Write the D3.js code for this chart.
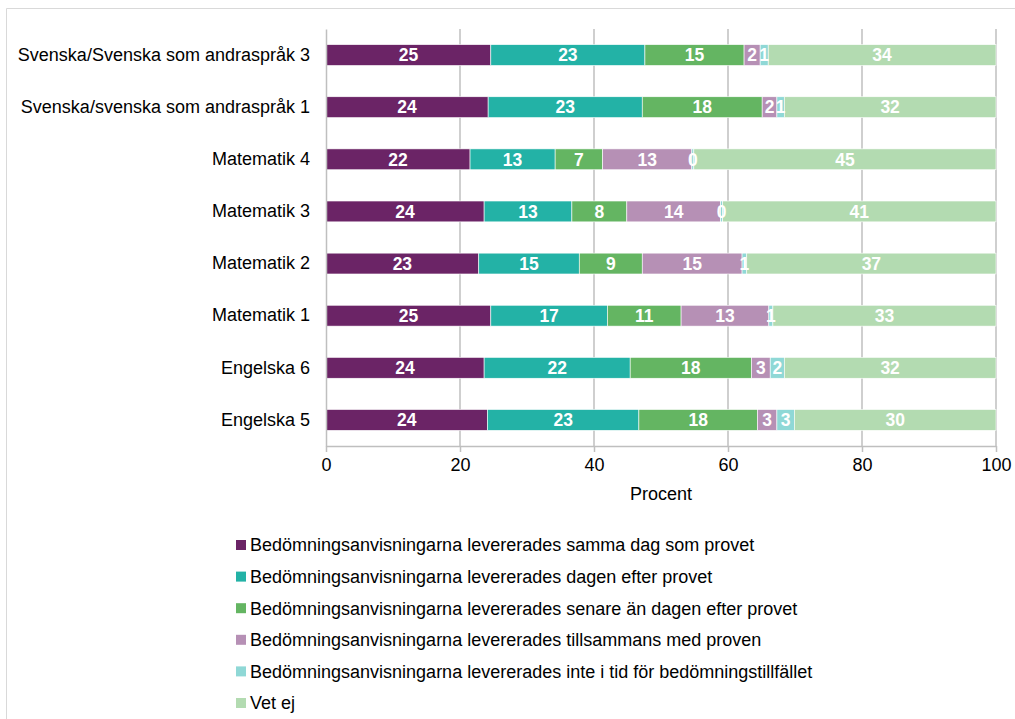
<!DOCTYPE html>
<html>
<head>
<meta charset="utf-8">
<script src="https://cdn.jsdelivr.net/npm/d3@7"></script>
<style>
  body { margin: 0; background: #fff; }
  svg { font-family: "Liberation Sans", Arial, sans-serif; }
</style>
</head>
<body>
<svg id="chart" width="1015" height="719"></svg>
<script>
// subjects, top to bottom
var subjects = ["Svenska/Svenska som andraspråk 3", "Svenska/svenska som andraspråk 1",
                "Matematik 4", "Matematik 3", "Matematik 2", "Matematik 1",
                "Engelska 6", "Engelska 5"];

var seriesNames = ["Bedömningsanvisningarna levererades samma dag som provet",
                   "Bedömningsanvisningarna levererades dagen efter provet",
                   "Bedömningsanvisningarna levererades senare än dagen efter provet",
                   "Bedömningsanvisningarna levererades tillsammans med proven",
                   "Bedömningsanvisningarna levererades inte i tid för bedömningstillfället",
                   "Vet ej"];

var colors = ["#6b2466", "#23b2a6", "#64b562", "#b690b5", "#8fd8d6", "#b3dbb1"];

// one array per series, in subject order
var sammaDag   = [24.6, 24.2, 21.5, 23.6, 22.8, 24.6, 23.6, 24.1];
var dagenEfter = [23.0, 23.0, 12.7, 13.1, 15.0, 17.4, 21.8, 22.6];
var senare     = [14.8, 17.9,  7.1,  8.2,  9.4, 11.0, 18.1, 17.7];
var tillsammans= [ 2.4,  2.2, 13.3, 14.0, 14.9, 13.1,  2.8,  2.9];
var inteITid   = [ 1.2,  1.1,  0.3,  0.3,  0.7,  0.6,  2.1,  2.6];
var vetEj      = [34.0, 31.6, 45.1, 40.8, 37.2, 33.3, 31.6, 30.1];

var xTicks = [0, 20, 40, 60, 80, 100];

var allSeries = [sammaDag, dagenEfter, senare, tillsammans, inteITid, vetEj];

var rows = subjects.map(function(s, i) {
  var o = {subject: s};
  allSeries.forEach(function(arr, k) { o["s" + k] = arr[i]; });
  return o;
});
var keys = allSeries.map(function(d, k) { return "s" + k; });

var svg = d3.select("#chart");

// outer frame (top and left only visible)
svg.append("line").attr("x1", 6.5).attr("x2", 1015).attr("y1", 8.5).attr("y2", 8.5)
   .attr("stroke", "#d9d9d9").attr("stroke-width", 1);
svg.append("line").attr("x1", 6.5).attr("x2", 6.5).attr("y1", 8.5).attr("y2", 719)
   .attr("stroke", "#d9d9d9").attr("stroke-width", 1);

var margin = {top: 29, left: 326};
var width = 670, height = 417;
var fs = "18px";

var x = d3.scaleLinear().domain([0, 100]).range([margin.left, margin.left + width]);
var y = d3.scaleBand().domain(subjects).range([margin.top, margin.top + height]).paddingInner(0.6).paddingOuter(0.3);

// gridlines
svg.append("g").selectAll("line")
   .data(xTicks.slice(1))
   .enter().append("line")
   .attr("x1", function(d) { return x(d); })
   .attr("x2", function(d) { return x(d); })
   .attr("y1", margin.top)
   .attr("y2", margin.top + height)
   .attr("stroke", "#bfbfbf").attr("stroke-width", 1.5);

var stack = d3.stack().keys(keys)(rows);

var layer = svg.append("g").selectAll("g")
   .data(stack)
   .enter().append("g")
   .attr("fill", function(d, i) { return colors[i]; });

layer.selectAll("rect")
   .data(function(d) { return d; })
   .enter().append("rect")
   .attr("x", function(d) { return x(d[0]); })
   .attr("y", function(d) { return y(d.data.subject); })
   .attr("width", function(d) { return x(d[1]) - x(d[0]); })
   .attr("height", y.bandwidth())
   .attr("stroke", "#fff").attr("stroke-width", 0.6);

// value labels, drawn on top of all bars
var labels = svg.append("g").selectAll("g")
   .data(stack)
   .enter().append("g");

labels.selectAll("text")
   .data(function(d) { return d; })
   .enter().append("text")
   .attr("x", function(d) { return (x(d[0]) + x(d[1])) / 2; })
   .attr("y", function(d) { return y(d.data.subject) + y.bandwidth() / 2; })
   .attr("dy", "0.36em")
   .attr("text-anchor", "middle")
   .attr("fill", "#fff")
   .style("font-size", "17.5px")
   .style("font-weight", "bold")
   .text(function(d) { return Math.round(d[1] - d[0]); });

// y axis
var yAxis = svg.append("g")
   .attr("transform", "translate(" + margin.left + ",0)")
   .call(d3.axisLeft(y).tickSize(0).tickPadding(16));
yAxis.select(".domain").attr("stroke", "#bfbfbf").attr("stroke-width", 1.5);
yAxis.selectAll("text").style("font-size", fs).attr("fill", "#000");

// x axis
var xAxis = svg.append("g")
   .attr("transform", "translate(0," + (margin.top + height) + ")")
   .call(d3.axisBottom(x).tickValues(xTicks).tickSize(6).tickSizeOuter(0).tickPadding(6));
xAxis.select(".domain").attr("stroke", "#bfbfbf").attr("stroke-width", 1.5);
xAxis.selectAll(".tick line").attr("stroke", "#bfbfbf").attr("stroke-width", 1.5);
xAxis.selectAll("text").style("font-size", fs).attr("fill", "#000");

svg.append("text")
   .attr("x", x(50)).attr("y", 500)
   .attr("text-anchor", "middle")
   .style("font-size", fs)
   .text("Procent");

// legend
var legend = svg.append("g").selectAll("g")
   .data(seriesNames)
   .enter().append("g")
   .attr("transform", function(d, i) { return "translate(236," + (545 + i * 31.6) + ")"; });
legend.append("rect")
   .attr("x", 0).attr("y", -5).attr("width", 10).attr("height", 10)
   .attr("fill", function(d, i) { return colors[i]; });
legend.append("text")
   .attr("x", 14).attr("dy", "0.36em")
   .style("font-size", fs)
   .text(function(d) { return d; });
</script>
</body>
</html>
